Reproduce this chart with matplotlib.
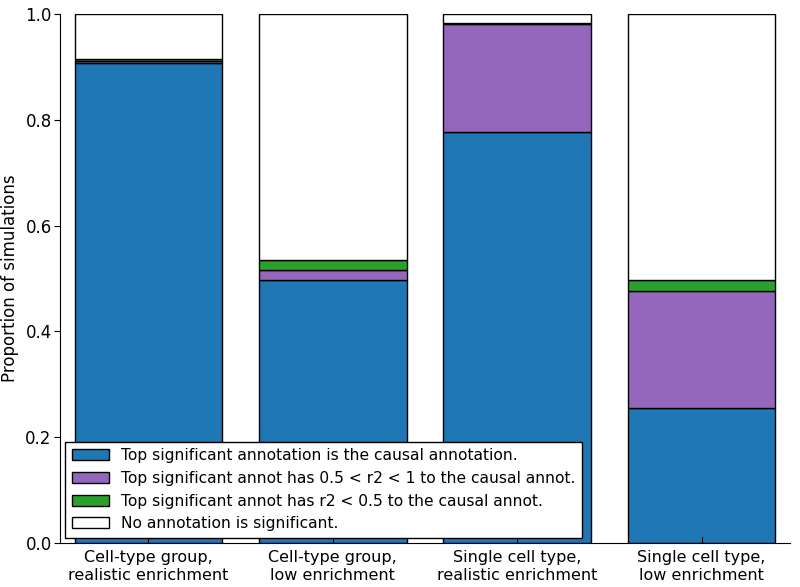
import matplotlib
matplotlib.use("Agg")
import matplotlib.pyplot as plt
import numpy as np

categories = ["Cell-type group,\nrealistic enrichment",
              "Cell-type group,\nlow enrichment",
              "Single cell type,\nrealistic enrichment",
              "Single cell type,\nlow enrichment"]
causal = [0.908, 0.497, 0.778, 0.255]
high_r2 = [0.004, 0.019, 0.203, 0.221]
low_r2 = [0.003, 0.019, 0.002, 0.021]
none_sig = [0.085, 0.465, 0.017, 0.503]

labels = ["Top significant annotation is the causal annotation.",
          "Top significant annot has 0.5 < r2 < 1 to the causal annot.",
          "Top significant annot has r2 < 0.5 to the causal annot.",
          "No annotation is significant."]
colors = ["#1f77b4", "#9467bd", "#2ca02c", "#ffffff"]

fig = plt.figure(figsize=(8, 5.87), dpi=100)
ax = fig.add_axes([0.075, 0.075, 0.9125, 0.901])

x = np.arange(len(categories))
bottom = np.zeros(len(categories))
for vals, lab, col in zip([causal, high_r2, low_r2, none_sig], labels, colors):
    ax.bar(x, vals, 0.8, bottom=bottom, color=col, edgecolor="black",
           linewidth=1.0, label=lab)
    bottom += np.array(vals)

ax.set_xlim(-0.48, 3.48)
ax.set_ylim(0, 1.0)
ax.set_xticks(x)
ax.set_xticklabels(categories, fontsize=11.5, linespacing=1.22)
ax.set_yticks([0.0, 0.2, 0.4, 0.6, 0.8, 1.0])
ax.set_yticklabels(["0.0", "0.2", "0.4", "0.6", "0.8", "1.0"], fontsize=12)
ax.set_ylabel("Proportion of simulations", fontsize=12)
ax.yaxis.set_label_coords(-0.056, 0.5)
ax.spines["top"].set_visible(False)
ax.spines["right"].set_visible(False)
ax.tick_params(axis="y", direction="out", length=4, pad=2)
ax.tick_params(axis="x", direction="in", length=4, pad=5)

leg = ax.legend(loc="lower left", fontsize=11.2, fancybox=False,
                edgecolor="black", framealpha=1, handlelength=2.4,
                borderaxespad=0.35, labelspacing=0.5)
leg.get_frame().set_linewidth(1.0)

fig.savefig("out.png", dpi=100)
